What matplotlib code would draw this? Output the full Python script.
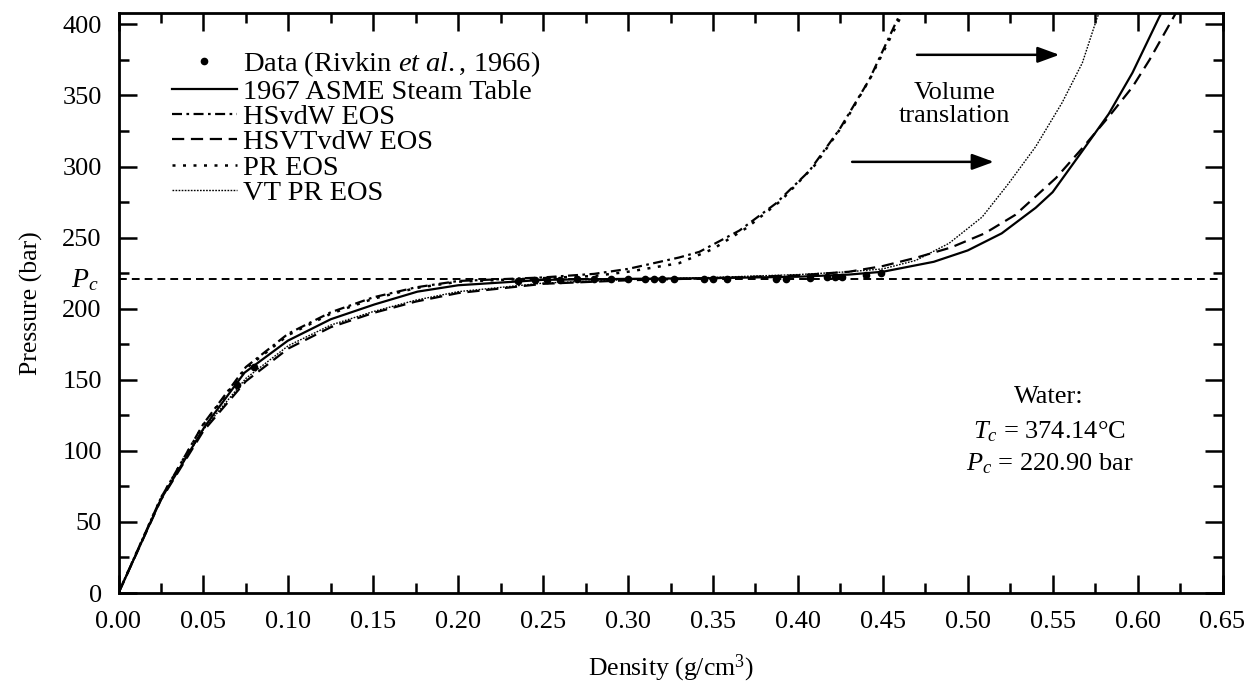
import numpy as np
import matplotlib.pyplot as plt

plt.rcParams['font.family'] = ['Liberation Serif', 'DejaVu Serif']
plt.rcParams['mathtext.fontset'] = 'custom'
plt.rcParams['mathtext.rm'] = 'Liberation Serif'
plt.rcParams['mathtext.it'] = 'Liberation Serif:italic'

# critical constant
Pc = 220.90

# data (Rivkin et al., 1966)
data_rho = [0.070, 0.080, 0.235, 0.245, 0.252, 0.260, 0.270, 0.280, 0.290,
            0.300, 0.310, 0.315, 0.320, 0.327, 0.345, 0.350, 0.358, 0.387, 0.393,
            0.407, 0.417, 0.422, 0.426, 0.440, 0.449]
data_p = [146, 159, 219.5, 220.0, 220.3, 220.5, 220.7, 220.8, 220.9,
          220.9, 220.9, 220.9, 221.0, 221.0, 221.0, 221.0, 221.0, 221.1, 221.2,
          221.5, 222.0, 222.3, 222.6, 223.8, 225.0]

# 1967 ASME steam table
asme_rho = [0.0, 0.0252, 0.0507, 0.0742, 0.0997, 0.125, 0.1507, 0.176, 0.20, 0.25,
            0.30, 0.35, 0.40, 0.43, 0.45, 0.48, 0.50, 0.52, 0.54, 0.55,
            0.5675, 0.583, 0.597, 0.6127, 0.615]
asme_p = [0, 66.5, 117, 155, 177.5, 192.6, 203, 212, 216.5, 220.3,
          221.0, 221.5, 222.5, 224, 226, 233, 241, 253, 271, 282,
          311, 337, 366, 405, 410]

# HSvdW EOS
hsvdw_rho = [0.0, 0.025, 0.05, 0.075, 0.10, 0.125, 0.15, 0.175, 0.20, 0.25,
             0.28, 0.30, 0.33, 0.342, 0.3656, 0.387, 0.4068, 0.4244, 0.442, 0.458, 0.4615]
hsvdw_p = [0, 67, 119, 159, 182.5, 197.5, 208, 215, 219.5, 222,
           224.5, 228, 236, 240, 255, 274, 297, 326, 361, 402, 410]

# HSVTvdW EOS
hsvtvdw_rho = [0.0, 0.025, 0.05, 0.075, 0.10, 0.125, 0.15, 0.175, 0.20, 0.25,
               0.30, 0.35, 0.40, 0.43, 0.45, 0.47, 0.49, 0.51, 0.528, 0.552,
               0.5675, 0.583, 0.597, 0.607, 0.6235]
hsvtvdw_p = [0, 65.5, 114, 149, 172, 187, 197, 205, 211, 217.5,
             220, 221.5, 223.5, 226, 230, 236, 243, 253, 266, 292,
             313, 335, 356, 375, 410]

# PR EOS
pr_rho = [0.0, 0.025, 0.05, 0.075, 0.10, 0.125, 0.15, 0.175, 0.20, 0.25,
          0.28, 0.30, 0.33, 0.35, 0.37, 0.39, 0.41, 0.427, 0.443, 0.46, 0.4635]
pr_p = [0, 67, 118.5, 158, 181.5, 196.5, 207, 214.5, 219, 221.5,
        223, 226, 232, 242, 257, 276, 301, 330, 363, 404, 410]

# VT PR EOS
vtpr_rho = [0.0, 0.025, 0.05, 0.075, 0.10, 0.125, 0.15, 0.175, 0.20, 0.25,
            0.30, 0.35, 0.40, 0.43, 0.45, 0.4695, 0.489, 0.5085, 0.524, 0.540,
            0.5556, 0.5675, 0.576, 0.578]
vtpr_p = [0, 66, 115, 151, 174, 188.5, 198, 206, 212, 218,
          220.5, 222, 224, 226, 228, 234, 246, 264.5, 288, 314,
          345, 373, 404, 410]

fig = plt.figure(figsize=(12.5, 6.89), dpi=100)
ax = fig.add_axes([0.0948, 0.1393, 0.8832, 0.8418])

ax.axhline(Pc, color='black', lw=1.4, dashes=(4, 2.6), zorder=1)

ax.plot(data_rho, data_p, 'o', color='black', ms=4.5, label='Data (Rivkin $\\mathit{et\\ al.}$, 1966)')
ax.plot(asme_rho, asme_p, color='black', lw=1.6, label='1967 ASME Steam Table')
ax.plot(hsvdw_rho, hsvdw_p, color='black', lw=1.6, dashes=(4.5, 2, 1.2, 2), label='HSvdW EOS')
ax.plot(hsvtvdw_rho, hsvtvdw_p, color='black', lw=1.6, dashes=(5.5, 3), label='HSVTvdW EOS')
ax.plot(pr_rho, pr_p, color='black', lw=1.8, dashes=(1.2, 3), label='PR EOS')
ax.plot(vtpr_rho, vtpr_p, color='black', lw=1.0, dashes=(1.2, 1.0), label='VT PR EOS')

ax.set_xlim(0, 0.65)
ax.set_ylim(0, 408)
ax.set_xticks(np.arange(0, 0.651, 0.05))
ax.set_xticks(np.arange(0.025, 0.65, 0.05), minor=True)
ax.set_yticks(np.arange(0, 401, 50))
ax.set_yticks(np.arange(25, 400, 50), minor=True)
ax.xaxis.set_major_formatter(plt.FormatStrFormatter('%.2f'))

for s in ax.spines.values():
    s.set_linewidth(2.0)
ax.tick_params(which='both', direction='in', top=True, right=True, width=1.8, labelsize=19)
ax.tick_params(axis='x', pad=13)
ax.tick_params(axis='y', pad=12)
ax.tick_params(which='major', length=13)
ax.tick_params(which='minor', length=7)

ax.set_xlabel('Density (g/cm$^3$)', fontsize=18.5, labelpad=14)
ax.set_ylabel('Pressure (bar)', fontsize=18.5, labelpad=14)

ax.text(-0.018, Pc - 0.5, '$P_c$', transform=ax.get_yaxis_transform(), ha='right', va='center', fontsize=20)

ax.legend(loc='upper left', bbox_to_anchor=(0.0484, 0.937), frameon=False, fontsize=20.5,
          handlelength=2.28, handletextpad=0.21, labelspacing=-0.02, numpoints=1,
          borderpad=0, borderaxespad=0)

ax.annotate('', xy=(0.5556, 378.6), xytext=(0.4685, 378.6),
            arrowprops=dict(arrowstyle='-|>,head_length=0.6,head_width=0.22', color='black', lw=1.8, mutation_scale=22))
ax.annotate('', xy=(0.517, 303.3), xytext=(0.4303, 303.3),
            arrowprops=dict(arrowstyle='-|>,head_length=0.6,head_width=0.22', color='black', lw=1.8, mutation_scale=22))
ax.text(0.492, 343.4, 'Volume\ntranslation', ha='center', va='center', fontsize=19, linespacing=1.05)

ax.text(0.548, 138, 'Water:', ha='center', va='center', fontsize=19)
ax.text(0.548, 113.5, '$T_c$ = 374.14°C', ha='center', va='center', fontsize=19)
ax.text(0.548, 91, '$P_c$ = 220.90 bar', ha='center', va='center', fontsize=19)

fig.savefig('out.png', dpi=100)
